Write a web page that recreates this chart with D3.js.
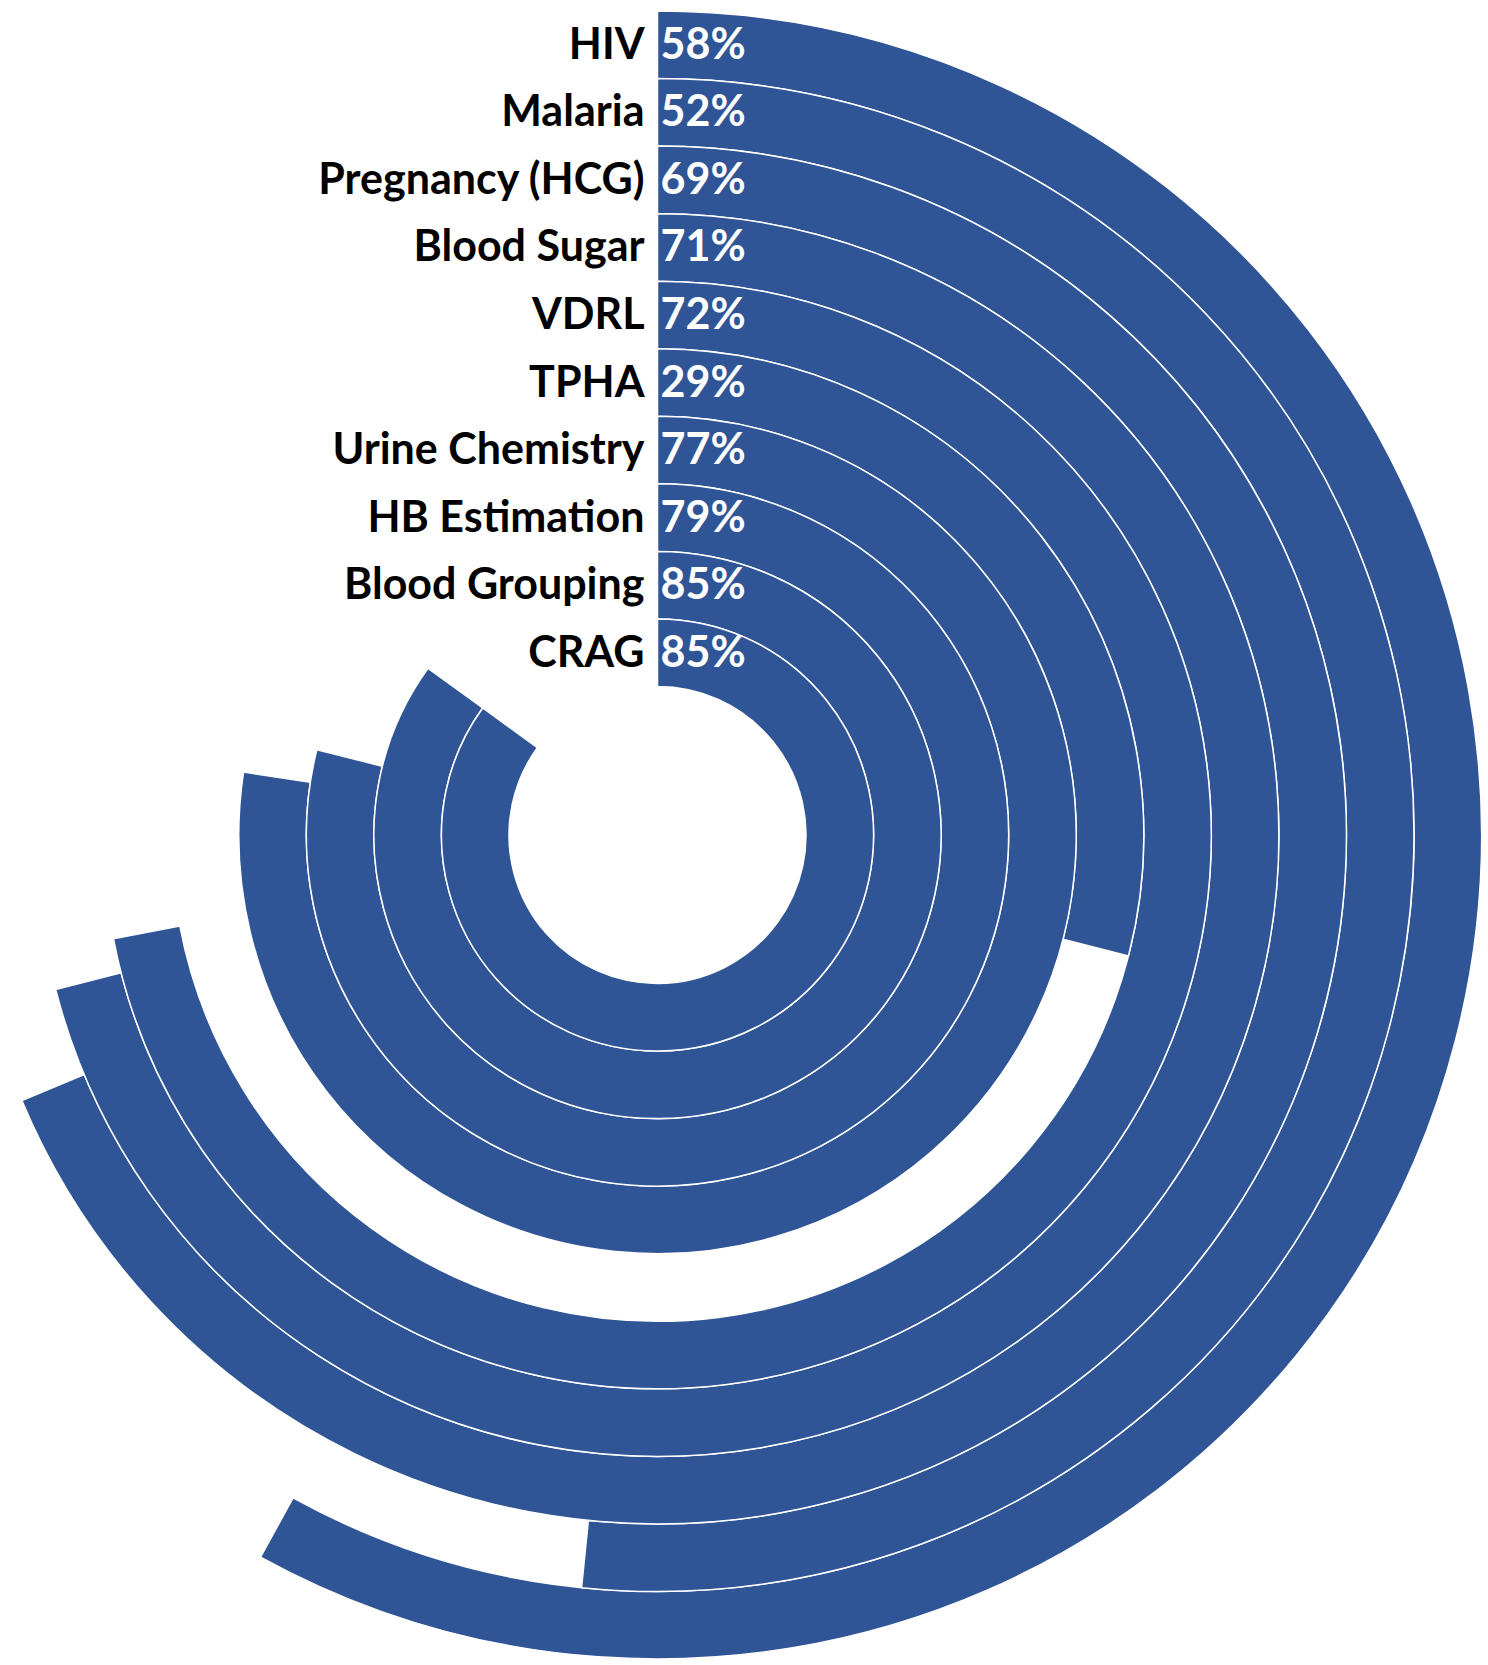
<!DOCTYPE html>
<html>
<head>
<meta charset="utf-8">
<script src="https://cdn.jsdelivr.net/npm/d3@7"></script>
<style>
  html, body { margin: 0; padding: 0; background: #ffffff; }
  svg { display: block; }
</style>
</head>
<body>
<script>
// ---- data (outermost ring first) ----
const categories = ["HIV", "Malaria", "Pregnancy (HCG)", "Blood Sugar", "VDRL",
                    "TPHA", "Urine Chemistry", "HB Estimation", "Blood Grouping", "CRAG"];
// arc lengths (percent of a full circle)
const values = [58, 51.6, 68.7, 71, 72, 29, 77.4, 78.9, 85, 85];
const valueLabels = ["58%", "52%", "69%", "71%", "72%", "29%", "77%", "79%", "85%", "85%"];

const W = 1488, H = 1665;
const cx = 657.5, cy = 835;
const innerR = 148.5, outerR = 824;
const barColor = "#2F5597";

const svg = d3.select("body").append("svg")
  .attr("width", W).attr("height", H);

const g = svg.append("g").attr("transform", `translate(${cx},${cy})`);

// first category = outermost ring
const rScale = d3.scaleBand()
  .domain(categories.slice().reverse())
  .range([innerR, outerR])
  .padding(0);

const aScale = d3.scaleLinear().domain([0, 100]).range([0, 2 * Math.PI]);

const rows = categories.map((c, i) => ({ cat: c, value: values[i], label: valueLabels[i] }));

const arc = d3.arc()
  .innerRadius(d => rScale(d.cat))
  .outerRadius(d => rScale(d.cat) + rScale.bandwidth())
  .startAngle(0)
  .endAngle(d => aScale(d.value));

g.selectAll("path.bar")
  .data(rows)
  .join("path")
  .attr("class", "bar")
  .attr("d", arc)
  .attr("fill", barColor)
  .attr("stroke", "#ffffff")
  .attr("stroke-width", 1.5);

const fontFam = "Lato, 'Liberation Sans', Arial, sans-serif";
const fs = 43;
const midY = d => -(rScale(d.cat) + rScale.bandwidth() / 2);

g.selectAll("text.cat")
  .data(rows)
  .join("text")
  .attr("class", "cat")
  .attr("x", -13)
  .attr("y", d => midY(d) + 14)
  .attr("text-anchor", "end")
  .attr("font-family", fontFam)
  .attr("font-weight", "bold")
  .attr("font-size", fs)
  .attr("fill", "#000000")
  .text(d => d.cat);

g.selectAll("text.val")
  .data(rows)
  .join("text")
  .attr("class", "val")
  .attr("x", 3)
  .attr("y", d => midY(d) + 14)
  .attr("text-anchor", "start")
  .attr("font-family", fontFam)
  .attr("font-weight", "bold")
  .attr("font-size", fs)
  .attr("fill", "#ffffff")
  .text(d => d.label);
</script>
</body>
</html>
